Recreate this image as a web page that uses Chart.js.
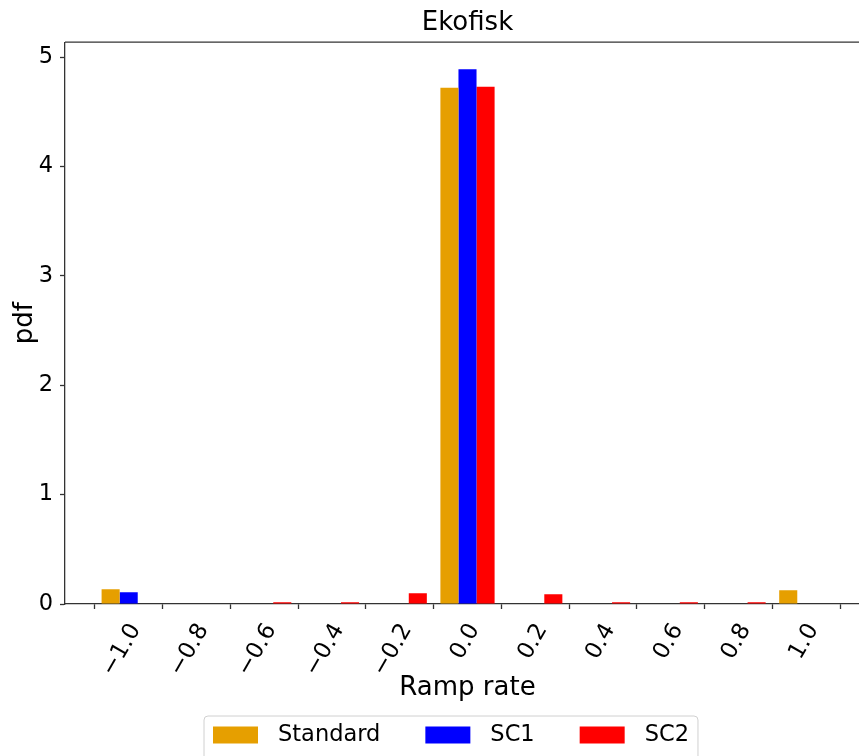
<!DOCTYPE html>
<html>
<head>
<meta charset="utf-8">
<script src="https://cdn.jsdelivr.net/npm/chart.js@4.4.0/dist/chart.umd.min.js"></script>
<style>
  html, body { margin: 0; padding: 0; background: #fff; overflow: hidden; }
  #wrap { width: 880px; height: 756px; }
</style>
</head>
<body>
<div id="wrap"><canvas id="chart" width="880" height="756"></canvas></div>
<script>
// ===== Ramp-rate histogram (density) per control case =====
const binCenters  = [-1.0, -0.8, -0.6, -0.4, -0.2, 0.0, 0.2, 0.4, 0.6, 0.8, 1.0];
const standardPdf = [0.134, 0, 0, 0, 0, 4.72, 0, 0, 0, 0, 0.125];
const sc1Pdf      = [0.107, 0, 0, 0, 0, 4.89, 0, 0, 0, 0, 0];
const sc2Pdf      = [0, 0, 0.015, 0.015, 0.098, 4.73, 0.089, 0.015, 0.015, 0.015, 0];

const seriesNames  = ['Standard', 'SC1', 'SC2'];
const seriesColors = ['#E69F00', '#0000FF', '#FF0000'];

const FONT  = 'DejaVu Sans';
const SPINE = '#333333';

function toPoints(vals) {
  return binCenters.map((x, i) => ({ x, y: vals[i] }));
}

// matplotlib-style tick text with a real minus sign
function fmtTick(v) {
  const r = Math.round(v * 10) / 10;
  const s = Math.abs(r).toFixed(1);
  return r < 0 ? '\u2212' + s : s;
}

// top spine + boxed legend under the x-axis title
const frameAndLegend = {
  id: 'frameAndLegend',
  afterDraw(chart) {
    const { ctx, chartArea: a } = chart;
    ctx.save();
    ctx.strokeStyle = SPINE;
    ctx.lineWidth = 1.3;
    ctx.beginPath();
    ctx.moveTo(a.left, a.top);
    ctx.lineTo(a.right, a.top);
    ctx.stroke();

    ctx.font = `22.5px "${FONT}"`;
    const patchW = 45, patchH = 17, gap = 20, itemGap = 45, padX = 9;
    const sets = chart.data.datasets;
    const widths = sets.map(d => ctx.measureText(d.label).width);
    const total = padX * 2 + widths.reduce((s, w) => s + patchW + gap + w, 0) + itemGap * (widths.length - 1);
    const left = 204, top = 716, midY = 735;
    let x = left;

    ctx.beginPath();
    ctx.roundRect(x, top, total, 60, 4);
    ctx.fillStyle = 'rgba(255,255,255,0.8)';
    ctx.fill();
    ctx.strokeStyle = '#d0d0d0';
    ctx.lineWidth = 1;
    ctx.stroke();

    x += padX;
    ctx.textBaseline = 'middle';
    ctx.textAlign = 'left';
    sets.forEach((d, i) => {
      ctx.fillStyle = d.backgroundColor;
      ctx.fillRect(x, midY - patchH / 2, patchW, patchH);
      x += patchW + gap;
      ctx.fillStyle = '#000';
      ctx.fillText(d.label, x, midY);
      x += widths[i] + itemGap;
    });
    ctx.restore();
  }
};

const pdfs = [standardPdf, sc1Pdf, sc2Pdf];

new Chart(document.getElementById('chart'), {
  type: 'bar',
  data: {
    datasets: seriesNames.map((name, i) => ({
      label: name,
      data: toPoints(pdfs[i]),
      backgroundColor: seriesColors[i],
      borderWidth: 0,
      categoryPercentage: 0.8,
      barPercentage: 1.0
    }))
  },
  options: {
    responsive: false,
    animation: false,
    devicePixelRatio: 1,
    layout: { padding: { left: 0, right: 10, top: 0, bottom: 50 } },
    plugins: {
      legend: { display: false },
      tooltip: { enabled: false },
      title: {
        display: true,
        text: 'Ekofisk',
        fullSize: false,
        color: '#000',
        font: { family: FONT, size: 26, weight: 'normal' },
        padding: { top: 8, bottom: 3 }
      }
    },
    scales: {
      x: {
        type: 'linear',
        offset: false,
        min: -1.188,
        max: 1.188,
        afterFit: s => { s.height = 102; },
        border: { display: true, color: SPINE, width: 1.3 },
        grid: { display: true, drawOnChartArea: false, drawTicks: true, tickLength: 5, tickColor: SPINE, tickWidth: 1.3 },
        ticks: {
          stepSize: 0.2,
          includeBounds: false,
          autoSkip: false,
          minRotation: 60,
          maxRotation: 60,
          padding: 10,
          labelOffset: 7,
          color: '#000',
          font: { family: FONT, size: 23 },
          callback: v => fmtTick(v)
        },
        title: {
          display: true,
          text: 'Ramp rate',
          color: '#000',
          font: { family: FONT, size: 26 },
          padding: { top: 0, bottom: 2 }
        }
      },
      y: {
        min: 0,
        max: 5.137,
        afterFit: s => { s.width = 65; },
        border: { display: true, color: SPINE, width: 1.3 },
        grid: { display: true, drawOnChartArea: false, drawTicks: true, tickLength: 5, tickColor: SPINE, tickWidth: 1.3 },
        ticks: {
          stepSize: 1,
          includeBounds: false,
          padding: 7,
          color: '#000',
          font: { family: FONT, size: 22.5 },
          callback: v => String(v)
        },
        title: {
          display: true,
          text: 'pdf',
          color: '#000',
          font: { family: FONT, size: 26 },
          padding: { top: 10, bottom: 0 }
        }
      }
    }
  },
  plugins: [frameAndLegend]
});
</script>
</body>
</html>
